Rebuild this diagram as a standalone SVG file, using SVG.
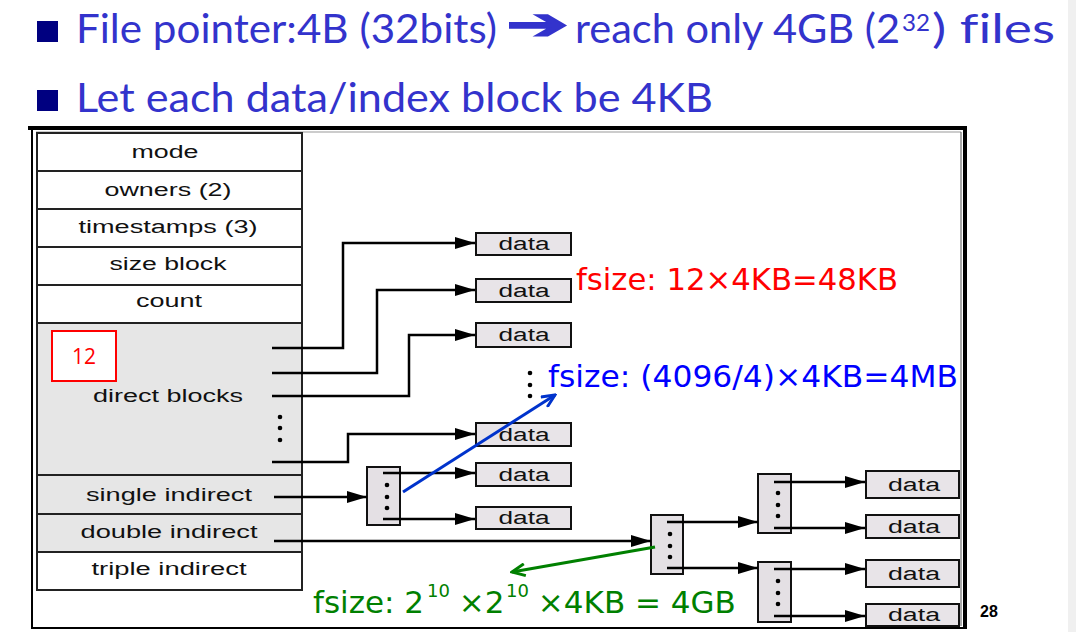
<svg xmlns="http://www.w3.org/2000/svg" width="1076" height="632" viewBox="0 0 1076 632">
<style>
.title{font-family:Lato,"Open Sans","Liberation Sans",sans-serif;font-size:40px;fill:#3333cc;font-variant-ligatures:none}
.lbl{font-family:"Liberation Sans",Arial,sans-serif;font-size:18px;fill:#111;text-anchor:middle}
.dat{font-family:"Liberation Sans",Arial,sans-serif;font-size:18px;fill:#111;text-anchor:middle}
.box{fill:#e8e4e8;stroke:#111;stroke-width:2}
.ib{fill:#e4e0e4;stroke:#111;stroke-width:2}
.ln{fill:none;stroke:#000;stroke-width:2.5}
.fs{font-family:"DejaVu Sans",Verdana,sans-serif;font-size:31px}
</style>
<defs>
<marker id="ah" markerUnits="userSpaceOnUse" markerWidth="20" markerHeight="12" refX="20" refY="6" orient="auto">
<path d="M0,0 L20,6 L0,12 z" fill="#000"/>
</marker>
<marker id="ab" markerUnits="userSpaceOnUse" markerWidth="16" markerHeight="14" refX="14" refY="7" orient="auto">
<path d="M1,1 L14,7 L1,13" fill="none" stroke="#0033cc" stroke-width="3"/>
</marker>
<marker id="ag" markerUnits="userSpaceOnUse" markerWidth="16" markerHeight="14" refX="14" refY="7" orient="auto">
<path d="M1,1 L14,7 L1,13" fill="none" stroke="#008000" stroke-width="3"/>
</marker>
</defs>
<rect width="1076" height="632" fill="#fff"/>
<rect x="1068" y="0" width="8" height="632" fill="#f0f0f0"/>

<g id="title">
<rect x="37" y="21" width="21" height="21" fill="#000080"/>
<text class="title" x="76" y="43" textLength="421" lengthAdjust="spacingAndGlyphs">File pointer:4B (32bits)</text>
<text x="506" y="39" font-family="DejaVu Sans,sans-serif" font-size="44" font-weight="bold" fill="#3333cc" stroke="#3333cc" stroke-width="1.5" textLength="63" lengthAdjust="spacingAndGlyphs">➔</text>
<text class="title" x="575" y="43" textLength="325" lengthAdjust="spacingAndGlyphs">reach only 4GB (2</text>
<text class="title" x="902" y="31" style="font-size:24px" textLength="28" lengthAdjust="spacingAndGlyphs">32</text>
<text class="title" x="932" y="43" textLength="123" lengthAdjust="spacingAndGlyphs">) files</text>
<rect x="37" y="90" width="21" height="21" fill="#000080"/>
<text class="title" x="76" y="112" textLength="637" lengthAdjust="spacingAndGlyphs">Let each data/index block be 4KB</text>
</g>

<g id="frame">
<rect x="32" y="128" width="933" height="500" fill="none" stroke="#000" stroke-width="2"/>
<line x1="28" y1="128" x2="967" y2="128" stroke="#000" stroke-width="4"/>
<line x1="965" y1="126" x2="965" y2="629" stroke="#000" stroke-width="4"/>
<line x1="36" y1="132" x2="961" y2="132" stroke="#999" stroke-width="1"/>
<line x1="961" y1="132" x2="961" y2="626" stroke="#555" stroke-width="1"/>
</g>

<g id="inode">
<rect x="37" y="323" width="265" height="229" fill="#e6e6e6"/>
<rect x="37" y="133" width="265" height="457" fill="none" stroke="#222" stroke-width="2"/>
<g stroke="#222" stroke-width="2">
<line x1="37" y1="171" x2="302" y2="171"/>
<line x1="37" y1="209" x2="302" y2="209"/>
<line x1="37" y1="247" x2="302" y2="247"/>
<line x1="37" y1="285" x2="302" y2="285"/>
<line x1="37" y1="323" x2="302" y2="323"/>
<line x1="37" y1="475" x2="302" y2="475"/>
<line x1="37" y1="514" x2="302" y2="514"/>
<line x1="37" y1="552" x2="302" y2="552"/>
</g>
<text class="lbl" x="165" y="158" textLength="67" lengthAdjust="spacingAndGlyphs">mode</text>
<text class="lbl" x="168" y="196" textLength="127" lengthAdjust="spacingAndGlyphs">owners (2)</text>
<text class="lbl" x="168" y="233" textLength="179" lengthAdjust="spacingAndGlyphs">timestamps (3)</text>
<text class="lbl" x="168" y="270" textLength="117" lengthAdjust="spacingAndGlyphs">size block</text>
<text class="lbl" x="169" y="307" textLength="66" lengthAdjust="spacingAndGlyphs">count</text>
<text class="lbl" x="168" y="402" textLength="150" lengthAdjust="spacingAndGlyphs">direct blocks</text>
<text class="lbl" x="169" y="501" textLength="166" lengthAdjust="spacingAndGlyphs">single indirect</text>
<text class="lbl" x="169" y="538" textLength="177" lengthAdjust="spacingAndGlyphs">double indirect</text>
<text class="lbl" x="169" y="575" textLength="155" lengthAdjust="spacingAndGlyphs">triple indirect</text>
<g fill="#000">
<circle cx="280" cy="417" r="2.3"/><circle cx="280" cy="428" r="2.3"/><circle cx="280" cy="440" r="2.3"/>
</g>
</g>

<g id="count12">
<rect x="52" y="331" width="64" height="50" fill="#fff" stroke="#ff0000" stroke-width="2"/>
<text x="84" y="364" font-family="Open Sans,Liberation Sans,sans-serif" font-size="21" fill="#ff0000" text-anchor="middle">12</text>
</g>

<g id="data-direct">
<rect class="box" x="476" y="233" width="95" height="22"/><text class="dat" x="524" y="250" textLength="51" lengthAdjust="spacingAndGlyphs">data</text>
<rect class="box" x="476" y="279" width="95" height="23"/><text class="dat" x="524" y="297" textLength="51" lengthAdjust="spacingAndGlyphs">data</text>
<rect class="box" x="476" y="323" width="95" height="24"/><text class="dat" x="524" y="341" textLength="51" lengthAdjust="spacingAndGlyphs">data</text>
<rect class="box" x="476" y="423" width="95" height="23"/><text class="dat" x="524" y="441" textLength="51" lengthAdjust="spacingAndGlyphs">data</text>
</g>
<g id="data-single">
<rect class="box" x="476" y="463" width="95" height="23"/><text class="dat" x="524" y="481" textLength="51" lengthAdjust="spacingAndGlyphs">data</text>
<rect class="box" x="476" y="507" width="95" height="22"/><text class="dat" x="524" y="524" textLength="51" lengthAdjust="spacingAndGlyphs">data</text>
</g>
<g id="data-double">
<rect class="box" x="866" y="471" width="93" height="27"/><text class="dat" x="914" y="491" textLength="52" lengthAdjust="spacingAndGlyphs">data</text>
<rect class="box" x="866" y="515" width="93" height="23"/><text class="dat" x="914" y="533" textLength="52" lengthAdjust="spacingAndGlyphs">data</text>
<rect class="box" x="866" y="560" width="93" height="27"/><text class="dat" x="914" y="580" textLength="52" lengthAdjust="spacingAndGlyphs">data</text>
<rect class="box" x="866" y="604" width="93" height="22"/><text class="dat" x="914" y="621" textLength="52" lengthAdjust="spacingAndGlyphs">data</text>
</g>

<g id="index1">
<rect class="ib" x="367" y="467" width="33" height="58"/>
<circle cx="387" cy="485" r="2.3"/><circle cx="387" cy="497" r="2.3"/><circle cx="387" cy="508" r="2.3"/>
</g>
<g id="index2">
<rect class="ib" x="651" y="515" width="32" height="59"/>
<circle cx="670" cy="534" r="2.3"/><circle cx="670" cy="546" r="2.3"/><circle cx="670" cy="557" r="2.3"/>
</g>
<g id="index3">
<rect class="ib" x="758" y="474" width="33" height="59"/>
<circle cx="778" cy="493" r="2.3"/><circle cx="778" cy="505" r="2.3"/><circle cx="778" cy="516" r="2.3"/>
</g>
<g id="index4">
<rect class="ib" x="758" y="562" width="33" height="60"/>
<circle cx="778" cy="581" r="2.3"/><circle cx="778" cy="593" r="2.3"/><circle cx="778" cy="604" r="2.3"/>
</g>

<g id="connectors">
<path class="ln" d="M272,348 H343 V243 H475" marker-end="url(#ah)"/>
<path class="ln" d="M272,373 H377 V290 H475" marker-end="url(#ah)"/>
<path class="ln" d="M272,396 H409 V335 H475" marker-end="url(#ah)"/>
<path class="ln" d="M272,462 H348 V434 H475" marker-end="url(#ah)"/>
<path class="ln" d="M274,497 H367" marker-end="url(#ah)"/>
<path class="ln" d="M383,473 H475" marker-end="url(#ah)"/>
<path class="ln" d="M383,519 H475" marker-end="url(#ah)"/>
<path class="ln" d="M274,541 H651" marker-end="url(#ah)"/>
<path class="ln" d="M667,522 H758" marker-end="url(#ah)"/>
<path class="ln" d="M667,568 H758" marker-end="url(#ah)"/>
<path class="ln" d="M774,482 H865" marker-end="url(#ah)"/>
<path class="ln" d="M774,528 H865" marker-end="url(#ah)"/>
<path class="ln" d="M774,569 H865" marker-end="url(#ah)"/>
<path class="ln" d="M774,616 H865" marker-end="url(#ah)"/>
<line x1="403" y1="492" x2="555" y2="395" stroke="#0033cc" stroke-width="3" marker-end="url(#ab)"/>
<line x1="655" y1="547" x2="512" y2="572" stroke="#008000" stroke-width="3" marker-end="url(#ag)"/>
</g>

<g id="annotations">
<text class="fs" x="576" y="290" fill="#ff0000" textLength="322" lengthAdjust="spacingAndGlyphs">fsize: 12×4KB=48KB</text>
<g fill="#000"><circle cx="530" cy="373" r="2.3"/><circle cx="530" cy="385" r="2.3"/><circle cx="530" cy="396" r="2.3"/></g>
<text class="fs" x="548" y="387" fill="#0000ff" textLength="410" lengthAdjust="spacingAndGlyphs">fsize: (4096/4)×4KB=4MB</text>
<text class="fs" fill="#008000"><tspan x="313" y="613">fsize: 2</tspan><tspan x="427" y="597" font-size="18">10</tspan><tspan x="449" y="613"> ×2</tspan><tspan x="506" y="597" font-size="18">10</tspan><tspan x="528" y="613"> ×4KB = 4GB</tspan></text>
<text x="980" y="617" font-family="Liberation Sans,Arial,sans-serif" font-size="16" font-weight="bold" fill="#000">28</text>
</g>
</svg>
